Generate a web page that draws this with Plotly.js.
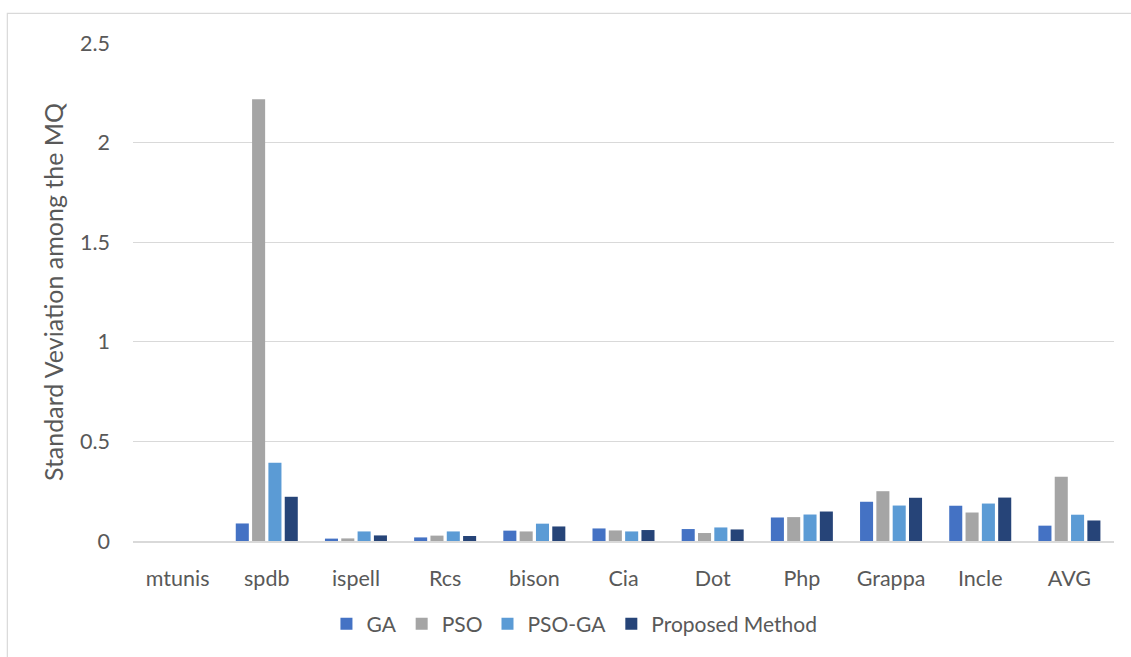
<!DOCTYPE html>
<html>
<head>
<meta charset="utf-8">
<script src="https://cdn.plot.ly/plotly-3.0.1.min.js"></script>
<style>
  html, body { margin: 0; padding: 0; background: #fff; }
  #chart { width: 1131px; height: 657px; }
</style>
</head>
<body>
<div id="chart"></div>
<script>
// Standard deviation of MQ per benchmark system and algorithm
const categories = ['mtunis', 'spdb', 'ispell', 'Rcs', 'bison', 'Cia', 'Dot', 'Php', 'Grappa', 'Incle', 'AVG'];
const gaValues       = [0, 0.088, 0.012, 0.018, 0.052, 0.063, 0.060, 0.118, 0.197, 0.177, 0.077];
const psoValues      = [0, 2.217, 0.013, 0.027, 0.048, 0.053, 0.040, 0.120, 0.250, 0.143, 0.323];
const psoGaValues    = [0, 0.393, 0.048, 0.048, 0.087, 0.048, 0.068, 0.133, 0.178, 0.188, 0.132];
const proposedValues = [0, 0.222, 0.028, 0.025, 0.073, 0.055, 0.058, 0.148, 0.217, 0.218, 0.103];
const yTickValues = [0, 0.5, 1, 1.5, 2, 2.5];
const yTickLabels = ['0', '0.5', '1', '1.5', '2', '2.5'];

const seriesNames  = ['GA', 'PSO', 'PSO-GA', 'Proposed Method'];
const seriesValues = [gaValues, psoValues, psoGaValues, proposedValues];
const seriesColors = ['#4472C4', '#A5A5A5', '#5B9BD5', '#264478'];

const FONT = 'Lato, "Open Sans", sans-serif';
const TEXT = '#595959';

const traces = seriesNames.map((name, i) => ({
  type: 'bar',
  name: name,
  x: categories,
  y: seriesValues[i],
  marker: { color: seriesColors[i], line: { width: 0 } },
  hoverinfo: 'x+y+name'
}));

const layout = {
  width: 1131,
  height: 657,
  margin: { l: 133, r: 17, t: 43, b: 114, pad: 0 },
  paper_bgcolor: '#ffffff',
  plot_bgcolor: '#ffffff',
  font: { family: FONT, size: 21, color: TEXT },
  barmode: 'group',
  bargap: 0.268,
  bargroupgap: 0.2,
  showlegend: true,
  legend: {
    orientation: 'h',
    x: 0.45, xanchor: 'center',
    y: -0.167, yanchor: 'middle',
    font: { family: FONT, size: 21, color: TEXT },
    traceorder: 'normal',
    itemclick: false, itemdoubleclick: false
  },
  xaxis: {
    type: 'category',
    showgrid: false,
    showline: true,
    linecolor: '#D9D9D9',
    linewidth: 1.5,
    zeroline: false,
    ticks: '',
    ticklabelstandoff: 18,
    tickfont: { family: FONT, size: 21.5, color: TEXT },
    fixedrange: true
  },
  yaxis: {
    range: [0, 2.5],
    tickvals: yTickValues,
    ticktext: yTickLabels,
    showgrid: true,
    gridcolor: '#D9D9D9',
    gridwidth: 1.2,
    zeroline: false,
    showline: false,
    ticks: '',
    ticklabelstandoff: 22,
    tickfont: { family: FONT, size: 21.5, color: TEXT },
    title: { text: 'Standard Veviation among the MQ', font: { family: FONT, size: 25, color: TEXT }, standoff: 9 },
    fixedrange: true
  },
  shapes: [{
    // chart frame
    type: 'rect', xref: 'paper', yref: 'paper',
    x0: -0.1281, x1: 1.2, y0: 1.0594, y1: -0.5,
    line: { color: '#D9D9D9', width: 1.2 },
    fillcolor: 'rgba(0,0,0,0)',
    layer: 'below'
  }]
};

Plotly.newPlot('chart', traces, layout, { displayModeBar: false, staticPlot: true });
</script>
</body>
</html>
